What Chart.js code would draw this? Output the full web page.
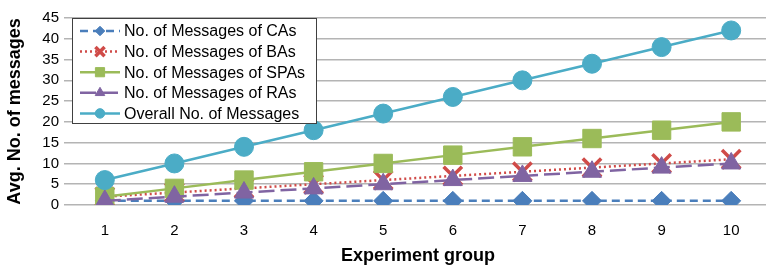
<!DOCTYPE html>
<html>
<head>
<meta charset="utf-8">
<script src="https://cdn.jsdelivr.net/npm/chart.js@4"></script>
<style>
  html, body { margin: 0; padding: 0; background: #fff; }
  #wrap { width: 766px; height: 271px; position: relative; }
</style>
</head>
<body>
<div id="wrap"><canvas id="chart"></canvas></div>
<script>
const groups = ['1', '2', '3', '4', '5', '6', '7', '8', '9', '10'];
const caMessages = [1, 1, 1, 1, 1, 1, 1, 1, 1, 1];
const baMessages = [2, 3, 4, 5, 6, 7, 8, 9, 10, 11];
const spaMessages = [2, 4, 6, 8, 10, 12, 14, 16, 18, 20];
const raMessages = [1, 2, 3, 4, 5, 6, 7, 8, 9, 10];
const overallMessages = [6, 10, 14, 18, 22, 26, 30, 34, 38, 42];
const seriesNames = [
  'No. of Messages of CAs',
  'No. of Messages of BAs',
  'No. of Messages of SPAs',
  'No. of Messages of RAs',
  'Overall No. of Messages'
];

const FONT = '"Liberation Sans", Arial, sans-serif';

// legend drawn inside the plot, top-left, like the original
const boxLegend = {
  id: 'boxLegend',
  afterDraw(chart) {
    const ctx = chart.ctx;
    const x0 = chart.chartArea.left + 2, y0 = chart.chartArea.top;
    const w = 244, h = 105;
    ctx.save();
    ctx.fillStyle = '#fff';
    ctx.fillRect(x0, y0, w, h);
    ctx.strokeStyle = '#404040';
    ctx.lineWidth = 1;
    ctx.strokeRect(x0 + 0.5, y0 + 0.5, w, h);
    chart.data.datasets.forEach((ds, i) => {
      const cy = y0 + 13 + i * 20.6;
      ctx.save();
      ctx.strokeStyle = ds.borderColor;
      ctx.lineWidth = ds.borderWidth;
      ctx.setLineDash(ds.borderDash || []);
      ctx.beginPath();
      ctx.moveTo(x0 + 8, cy);
      ctx.lineTo(x0 + 48, cy);
      ctx.stroke();
      ctx.restore();
      ctx.fillStyle = ds.pointBackgroundColor;
      ctx.strokeStyle = ds.pointBorderColor;
      ctx.lineWidth = ds.pointBorderWidth;
      ctx.setLineDash([]);
      Chart.helpers.drawPoint(ctx, {
        pointStyle: ds.pointStyle,
        radius: ds.pointRadius * 0.5,
        borderWidth: ds.pointBorderWidth
      }, x0 + 28, cy);
      ctx.fillStyle = '#000';
      ctx.font = '16px ' + FONT;
      ctx.textBaseline = 'middle';
      ctx.textAlign = 'left';
      ctx.fillText(ds.label, x0 + 52, cy + 1);
    });
    ctx.restore();
  }
};

function makeSet(label, data, color, style, radius, dash, order) {
  return {
    label: label,
    data: data,
    borderColor: color,
    backgroundColor: color,
    pointBackgroundColor: color,
    pointBorderColor: color,
    pointStyle: style,
    pointRadius: radius,
    pointHoverRadius: radius,
    pointBorderWidth: style === 'crossRot' ? 3.5 : 1,
    borderWidth: 2.5,
    borderDash: dash,
    order: order,
    tension: 0
  };
}

new Chart(document.getElementById('chart'), {
  type: 'line',
  data: {
    labels: groups,
    datasets: [
      makeSet(seriesNames[0], caMessages, '#4a7ebb', 'rectRot', 9.5, [8, 5], 5),
      makeSet(seriesNames[1], baMessages, '#d04b48', 'crossRot', 13, [2, 3], 4),
      makeSet(seriesNames[2], spaMessages, '#9bbb59', 'rect', 13, [], 3),
      makeSet(seriesNames[3], raMessages, '#8064a2', 'triangle', 11, [16, 6], 2),
      makeSet(seriesNames[4], overallMessages, '#4bacc6', 'circle', 9.5, [], 1)
    ]
  },
  options: {
    responsive: true,
    maintainAspectRatio: false,
    animation: false,
    layout: { autoPadding: false, padding: { top: 18, right: 0, left: 0, bottom: 0 } },
    plugins: { legend: { display: false }, tooltip: { enabled: false } },
    scales: {
      x: {
        offset: true,
        grid: { display: false },
        border: { display: false },
        ticks: { color: '#000', font: { family: FONT, size: 15 }, padding: 9 },
        title: {
          display: true, text: 'Experiment group', color: '#000',
          font: { family: FONT, size: 18, weight: 'bold' }, padding: { top: 2 }
        },
        afterFit: (s) => { s.height = 66; }
      },
      y: {
        min: 0, max: 45,
        ticks: { stepSize: 5, color: '#000', font: { family: FONT, size: 15, lineHeight: 1 }, padding: 5 },
        grid: { color: '#b4b4b4', lineWidth: 1.5, tickLength: 6 },
        border: { display: false },
        title: {
          display: true, text: 'Avg. No. of messages', color: '#000',
          font: { family: FONT, size: 18, weight: 'bold' }, padding: { bottom: 0 }
        },
        afterFit: (s) => { s.width = 70; }
      }
    }
  },
  plugins: [boxLegend]
});
</script>
</body>
</html>
